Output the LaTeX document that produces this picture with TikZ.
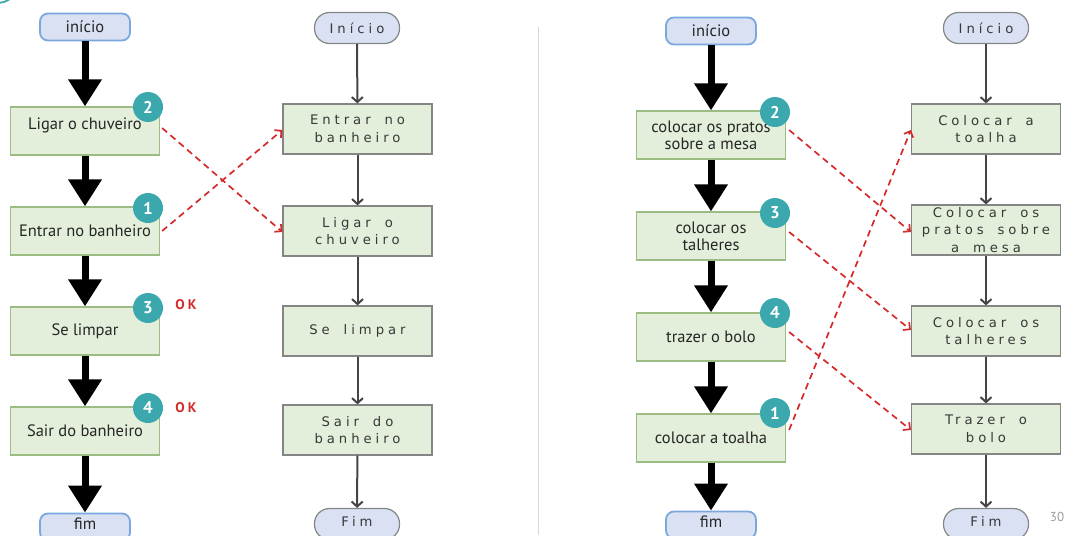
\documentclass[tikz,border=0pt]{standalone}
\usepackage{fontspec}
\setmainfont{PT Sans}
\newfontfamily\widefont[LetterSpace=30,WordSpace=1.7]{DejaVu Sans}
\usetikzlibrary{arrows.meta}

\definecolor{boxfill}{HTML}{E3EFDA}
\definecolor{greenline}{HTML}{9CBC84}
\definecolor{termfill}{HTML}{D9E1F3}
\definecolor{termline}{HTML}{7AA8DE}
\definecolor{grayline}{HTML}{858585}
\definecolor{badgeteal}{HTML}{3BA8AE}
\definecolor{dashred}{HTML}{D42A2A}
\definecolor{txtdark}{HTML}{262626}
\definecolor{txtgray}{HTML}{383838}
\definecolor{flowgray}{HTML}{454545}

\tikzset{
  stepbox/.style={draw=greenline, fill=boxfill, line width=1.2pt,
    minimum width=149pt, minimum height=48pt, inner sep=0pt,
    align=center, text=txtdark, font=\fontsize{16.5}{17}\selectfont},
  widebox/.style={draw=grayline, fill=boxfill, line width=1.2pt,
    minimum width=149pt, minimum height=50pt, inner sep=0pt,
    align=center, text=txtgray, font=\widefont\fontsize{13.2}{17.5}\selectfont},
  term/.style={draw=termline, fill=termfill, line width=1.8pt,
    rounded corners=8pt, minimum width=90pt, minimum height=27pt,
    inner sep=0pt, text=txtdark, font=\fontsize{16.5}{17}\selectfont},
  gterm/.style={draw=grayline, fill=termfill, line width=1.2pt,
    rounded corners=15pt, minimum width=85pt, minimum height=31pt,
    inner sep=0pt, text=txtgray, font=\widefont\fontsize{13.2}{15}\selectfont},
  badge/.style={circle, fill=badgeteal, minimum size=30pt, inner sep=0pt,
    text=white, font=\bfseries\fontsize{17}{17}\selectfont},
  oktag/.style={text=dashred, font=\bfseries\fontsize{14}{14}\selectfont},
  fat/.style={line width=7pt, -{Triangle[width=32pt,length=27pt]}},
  thin/.style={draw=flowgray, line width=2pt, -{Straight Barb[length=5pt,width=11pt]}},
  swap/.style={draw=dashred, line width=1.7pt, dash pattern=on 6.5pt off 4.5pt,
    -{Straight Barb[length=5pt,width=10pt]}},
}
\newcommand{\hightext}[1]{\raisebox{6pt}[\height][\depth]{#1}}
\newcommand{\lifttext}[1]{\raisebox{3pt}[\height][\depth]{#1}}

\begin{document}
\begin{tikzpicture}[x=1pt, y=-1pt]
  \useasboundingbox (0,0) rectangle (1067,535);
  \clip (0,0) rectangle (1067,535);

  % corner ornament and divider
  \draw[badgeteal, line width=1.8pt] (-2,3) .. controls (3,2.5) and (6,1.5) .. (10,-1);
  \draw[draw=black!15, line width=0.9pt] (538.5,27) -- (538.5,535);

  % ---------- left pair: shower ----------
  \node[term]    (a0) at (85,27)  {início};
  \node[stepbox] (a1) at (85,131) {\hightext{Ligar o chuveiro}};
  \node[stepbox] (a2) at (85,231) {Entrar no banheiro};
  \node[stepbox] (a3) at (85,331) {Se limpar};
  \node[stepbox] (a4) at (85,431) {Sair do banheiro};
  \node[term]    (a5) at (85,527) {\lifttext{fim}};

  \draw[fat] (a0) -- (a1);
  \draw[fat] (a1) -- (a2);
  \draw[fat] (a2) -- (a3);
  \draw[fat] (a3) -- (a4);
  \draw[fat] (a4) -- (a5);

  \node[badge] (na1) at (148,107) {2};
  \node[badge] (na2) at (148,208) {1};
  \node[badge] (na3) at (148,308) {3};
  \node[badge] (na4) at (148,408) {4};
  \node[oktag] (ok3) at (186,305) {O\hspace{3pt}K};
  \node[oktag] (ok4) at (186,408) {O\hspace{3pt}K};

  \node[gterm]   (b0) at (357,28)  {Início};
  \node[widebox] (b1) at (357.5,129) {Entrar no\\banheiro};
  \node[widebox] (b2) at (357.5,231) {Ligar o\\chuveiro};
  \node[widebox] (b3) at (357.5,331) {Se limpar};
  \node[widebox] (b4) at (357.5,430) {Sair do\\banheiro};
  \node[gterm]   (b5) at (357,524) {\lifttext{Fim}};

  \draw[thin] (b0) -- (b1);
  \draw[thin] (b1) -- (b2);
  \draw[thin] (b2) -- (b3);
  \draw[thin] (b3) -- (b4);
  \draw[thin] (b4) -- (b5);

  \draw[swap] ([xshift=2pt,yshift=3pt]a1.east) -- ([yshift=-1pt]b2.west);
  \draw[swap] ([xshift=2pt]a2.east) -- ([yshift=-1pt]b1.west);

  % ---------- right pair: table ----------
  \node[term]    (c0) at (711,31)  {início};
  \node[stepbox] (c1) at (711,135) {colocar os pratos\\sobre a mesa};
  \node[stepbox] (c2) at (711,236) {colocar os\\talheres};
  \node[stepbox] (c3) at (711,337) {trazer o bolo};
  \node[stepbox] (c4) at (711,438) {colocar a toalha};
  \node[term]    (c5) at (711,525) {\lifttext{fim}};

  \draw[fat] (c0) -- (c1);
  \draw[fat] (c1) -- (c2);
  \draw[fat] (c2) -- (c3);
  \draw[fat] (c3) -- (c4);
  \draw[fat] (c4) -- (c5);

  \node[badge] (nc1) at (775,112) {2};
  \node[badge] (nc2) at (775,213) {3};
  \node[badge] (nc3) at (775,313) {4};
  \node[badge] (nc4) at (775,413) {1};

  \node[gterm]   (d0) at (986,28)  {Início};
  \node[widebox] (d1) at (986,129) {Colocar a\\toalha};
  \node[widebox] (d2) at (986,230) {Colocar os\\pratos sobre\\a mesa};
  \node[widebox] (d3) at (986,331) {Colocar os\\talheres};
  \node[widebox] (d4) at (986,429) {Trazer o\\bolo};
  \node[gterm]   (d5) at (986,524) {\lifttext{Fim}};

  \draw[thin] (d0) -- (d1);
  \draw[thin] (d1) -- (d2);
  \draw[thin] (d2) -- (d3);
  \draw[thin] (d3) -- (d4);
  \draw[thin] (d4) -- (d5);

  \draw[swap] ([xshift=3pt,yshift=5pt]c1.east) -- ([yshift=-2pt]d2.west);
  \draw[swap] ([xshift=3pt,yshift=4pt]c2.east) -- ([yshift=1pt]d3.west);
  \draw[swap] ([xshift=3pt,yshift=5pt]c3.east) -- ([yshift=-1pt]d4.west);
  \draw[swap] ([xshift=3pt,yshift=8pt]c4.east) -- ([yshift=-1pt]d1.west);

  \node[text=black!40, font=\fontsize{13}{13}\selectfont] (page) at (1057,517) {30};
\end{tikzpicture}
\end{document}
